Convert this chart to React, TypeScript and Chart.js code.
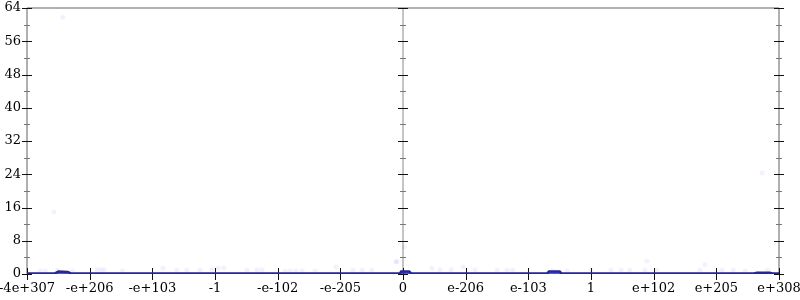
import React, { useEffect, useRef } from "react";
import { Chart, registerables } from "chart.js";

Chart.register(...registerables);

const xTickLabels = ["-4e+307", "-e+206", "-e+103", "-1", "-e-102", "-e-205", "0", "e-206", "e-103", "1", "e+102", "e+205", "e+308"];
const yTicks = [0, 8, 16, 24, 32, 40, 48, 56, 64];

const lineX = [0, 0.45, 0.5, 0.65, 0.7, 5.95, 5.97, 6.1, 6.13, 8.3, 8.33, 8.5, 8.53, 11.6, 11.65, 11.85, 11.9, 12];
const lineY = [0.15, 0.15, 0.6, 0.5, 0.15, 0.15, 0.6, 0.6, 0.15, 0.15, 0.6, 0.6, 0.15, 0.15, 0.3, 0.3, 0.15, 0.15];

const dotX = [0.21, 0.29, 0.49, 0.73, 1.12, 1.18, 1.23, 1.52, 2.17, 2.39, 2.55, 2.76, 2.95, 3.05, 3.14, 3.51, 3.67, 3.75, 0.43, 0.57, 4.12, 4.2, 4.29, 4.39, 4.6, 4.93, 5.2, 5.35, 5.5, 5.89, 6.02, 5.9, 6.46, 6.59, 6.77, 6.96, 7.15, 7.5, 7.66, 7.75, 8.39, 8.62, 9.0, 9.32, 9.48, 9.62, 9.86, 9.89, 10.04, 10.74, 10.82, 11.09, 11.27, 11.46, 11.73, 11.82];
const dotY = [0.7, 0.7, 0.9, 0.7, 1.0, 1.0, 1.0, 0.7, 1.4, 0.9, 0.9, 0.9, 1.0, 1.4, 1.5, 0.9, 1.0, 1.0, 14.9, 61.8, 0.7, 0.7, 0.7, 0.7, 0.7, 1.7, 0.9, 0.9, 0.9, 2.9, 6.5, 3.0, 1.4, 1.0, 1.0, 1.7, 1.0, 0.9, 0.9, 0.9, 0.7, 0.7, 0.9, 0.9, 0.9, 0.9, 0.9, 3.1, 0.9, 0.9, 2.2, 0.9, 0.9, 0.7, 24.3, 0.9];

const axesPlugin = {
  id: "crossAxes",
  beforeDatasetsDraw(chart: any) {
    const { ctx, chartArea, scales } = chart;
    const xs = scales.x;
    const ys = scales.y;
    ctx.save();
    ctx.strokeStyle = "#b0b0b0";
    ctx.lineWidth = 2;
    ctx.beginPath();
    ctx.moveTo(chartArea.left, ys.getPixelForValue(64));
    ctx.lineTo(chartArea.right, ys.getPixelForValue(64));
    ctx.stroke();
    const axisPos = [0, 6, 12];
    axisPos.forEach((v, i) => {
      const px = xs.getPixelForValue(v);
      ctx.strokeStyle = i === 1 ? "#8a8a8a" : "#b0b0b0";
      ctx.lineWidth = i === 1 ? 1 : 2;
      ctx.beginPath();
      ctx.moveTo(px, chartArea.top);
      ctx.lineTo(px, chartArea.bottom);
      ctx.stroke();
    });
    axisPos.forEach((v) => {
      const px = Math.round(xs.getPixelForValue(v));
      for (let t = 0; t <= 64; t += 4) {
        const py = Math.round(ys.getPixelForValue(t)) + 0.5;
        const major = t % 8 === 0;
        ctx.strokeStyle = major ? "#111" : "#777";
        ctx.lineWidth = 1;
        const half = major ? 5 : 3;
        ctx.beginPath();
        ctx.moveTo(px - half, py);
        ctx.lineTo(px + half, py);
        ctx.stroke();
      }
    });
    const by = ys.getPixelForValue(0);
    for (let i = 0; i < xTickLabels.length; i++) {
      const px = Math.round(xs.getPixelForValue(i)) + 0.5;
      ctx.strokeStyle = "#111";
      ctx.lineWidth = 1;
      ctx.beginPath();
      ctx.moveTo(px, by - 6);
      ctx.lineTo(px, by + 6);
      ctx.stroke();
    }
    ctx.restore();
  },
};

export default function App() {
  const ref = useRef<HTMLCanvasElement>(null);
  useEffect(() => {
    document.body.style.margin = "0";
    const linePts = lineX.map((x, i) => ({ x, y: lineY[i] }));
    const dotPts = dotX.map((x, i) => ({ x, y: dotY[i] }));
    const chart = new Chart(ref.current as HTMLCanvasElement, {
      type: "scatter",
      data: {
        datasets: [
          {
            type: "scatter",
            data: dotPts,
            pointRadius: 2.5,
            pointBackgroundColor: "rgba(70,70,255,0.07)",
            pointBorderWidth: 0,
            borderWidth: 0,
          } as any,
          {
            type: "line",
            data: linePts,
            borderColor: "#25259c",
            borderWidth: 2.5,
            backgroundColor: "rgba(40,60,235,0.85)",
            fill: "origin",
            pointRadius: 0,
            tension: 0,
          } as any,
        ],
      },
      options: {
        animation: false,
        responsive: false,
        events: [],
        layout: { padding: { top: 8, right: 21, left: 0, bottom: 0 } },
        plugins: { legend: { display: false }, tooltip: { enabled: false } },
        scales: {
          x: {
            type: "linear",
            min: 0,
            max: 12,
            grid: { display: false, drawTicks: false, tickLength: 0 },
            border: { display: false },
            ticks: {
              stepSize: 1,
              autoSkip: false,
              maxRotation: 0,
              padding: 7,
              color: "#000",
              font: { family: "DejaVu Serif", size: 13 },
              callback: (v: any) => xTickLabels[Math.round(Number(v))] ?? "",
            },
            afterFit: (s: any) => {
              s.height = 26;
              s.paddingLeft = 0;
              s.paddingRight = 0;
            },
          },
          y: {
            min: 0,
            max: 64,
            grid: { display: false, drawTicks: false, tickLength: 0 },
            border: { display: false },
            ticks: {
              stepSize: 8,
              padding: 6,
              color: "#000",
              font: { family: "DejaVu Serif", size: 13 },
              callback: (v: any) => (yTicks.includes(Number(v)) ? String(v) : ""),
            },
            afterFit: (s: any) => {
              s.width = 27;
              s.paddingTop = 0;
              s.paddingBottom = 0;
            },
          },
        },
      },
      plugins: [axesPlugin],
    });
    return () => chart.destroy();
  }, []);
  return (
    <div style={{ position: "absolute", left: 0, top: 0, width: 800, height: 300, background: "#fff" }}>
      <canvas ref={ref} width={800} height={300} style={{ display: "block" }} />
    </div>
  );
}
